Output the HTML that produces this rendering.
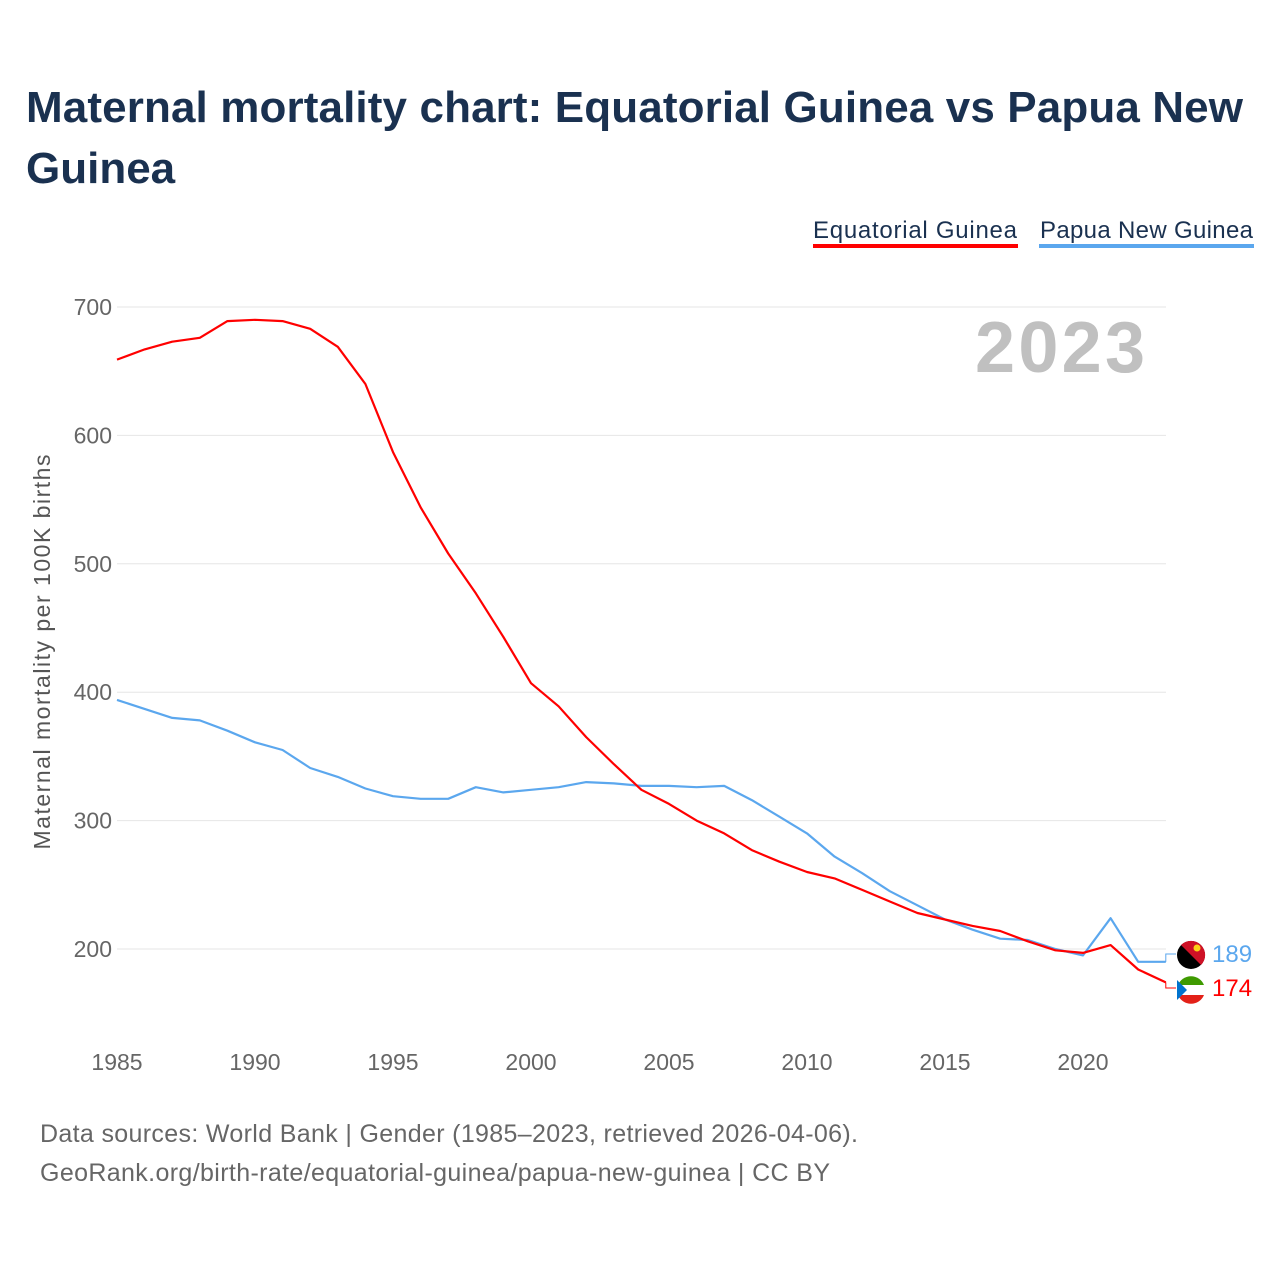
<!DOCTYPE html>
<html><head><meta charset="utf-8"><style>
body{margin:0;background:#fff;font-family:"Liberation Sans",sans-serif}
</style></head><body>
<svg width="1280" height="1280" viewBox="0 0 1280 1280" xmlns="http://www.w3.org/2000/svg">
<text x="26" y="122" font-size="44" font-weight="bold" fill="#1a3150" textLength="1217">Maternal mortality chart: Equatorial Guinea vs Papua New</text>
<text x="26" y="183" font-size="44" font-weight="bold" fill="#1a3150">Guinea</text>
<g>
<text x="813" y="238" font-size="24" fill="#1a3150" textLength="204">Equatorial Guinea</text>
<rect x="813" y="244" width="205" height="4" fill="#ff0000"/>
<text x="1040" y="238" font-size="24" fill="#1a3150" textLength="213">Papua New Guinea</text>
<rect x="1039" y="244" width="215" height="4" fill="#5ba7ee"/>
</g>
<text x="1060" y="372" font-size="72" font-weight="bold" fill="#c0c0c0" text-anchor="middle" textLength="170">2023</text>
<g id="grid"></g>
<g id="xt"></g>
<text transform="translate(50,652) rotate(-90)" font-size="23" fill="#555" text-anchor="middle" textLength="395">Maternal mortality per 100K births</text>
<g id="lines"></g>
<text x="40" y="1142" font-size="25" fill="#666" textLength="818">Data sources: World Bank | Gender (1985–2023, retrieved 2026-04-06).</text>
<text x="40" y="1181" font-size="25" fill="#666" textLength="790">GeoRank.org/birth-rate/equatorial-guinea/papua-new-guinea | CC BY</text>
</svg>
<script>
const years=[];for(let y=1985;y<=2023;y++)years.push(y);
const eqValues=[659,667,673,676,689,690,689,683,669,640,587,544,508,477,443,407,389,365,344,324,313,300,290,277,268,260,255,246,237,228,223,218,214,206,199,197,203,184,174];
const pngValues=[394,387,380,378,370,361,355,341,334,325,319,317,317,326,322,324,326,330,329,327,327,326,327,316,303,290,272,259,245,234,223,215,208,207,200,195,224,190,190];
const yTicks=[200,300,400,500,600,700];
const xTicks=[1985,1990,1995,2000,2005,2010,2015,2020];
const eqLabel="174", pngLabel="189";
const NS="http://www.w3.org/2000/svg";
const xs=y=>117+(y-1985)*(1083-117)/35;
const ys=v=>949-(v-200)*(949-307)/500;
function mk(tag,attrs,parent){const e=document.createElementNS(NS,tag);for(const k in attrs)e.setAttribute(k,attrs[k]);parent.appendChild(e);return e;}
const grid=document.getElementById('grid');
yTicks.forEach(t=>{
 const l=mk('line',{x1:117,x2:1166,y1:ys(t),y2:ys(t),stroke:'#e6e6e6','stroke-width':1},grid);
 
 
 const tx=mk('text',{x:112,y:ys(t)+8,'font-size':23,fill:'#666','text-anchor':'end'},grid);
 tx.textContent=t;
 
 
});
const xt=document.getElementById('xt');
xTicks.forEach(t=>{
 const tx=mk('text',{x:xs(t),y:1070,'font-size':23,fill:'#666','text-anchor':'middle'},xt);
 tx.textContent=t;
 
 
});
const lines=document.getElementById('lines');
function series(vals,color,name){
 const d=vals.map((v,i)=>(i?'L':'M')+xs(years[i]).toFixed(1)+','+ys(v).toFixed(1)).join(' ');
 const p=mk('path',{d:d,fill:'none',stroke:color,'stroke-width':2.2,'stroke-linejoin':'round'},lines);
 
 
}
series(pngValues,'#5ba7ee','line-papua-new-guinea');
series(eqValues,'#ff0000','line-equatorial-guinea');
const lx=xs(2023);
const pl=mk('text',{x:1212,y:962,'font-size':24,fill:'#5ba7ee'},lines);pl.textContent=pngLabel;


const el=mk('text',{x:1212,y:996,'font-size':24,fill:'#ff0000'},lines);el.textContent=eqLabel;


const c1=mk('path',{d:`M${lx},${ys(pngValues[38])} V954 H1176`,fill:'none',stroke:'#5ba7ee','stroke-width':1},lines);


const c2=mk('path',{d:`M${lx},${ys(eqValues[38])} V988 H1176`,fill:'none',stroke:'#ff0000','stroke-width':1},lines);


const f1=mk('g',{},lines);


mk('circle',{cx:1191,cy:955,r:14,fill:'#000'},f1);
mk('path',{d:'M1181,945 A14,14 0 0,1 1201,965 Z',fill:'#ce1126'},f1);
mk('circle',{cx:1197,cy:948,r:3.5,fill:'#fcd116'},f1);
const f2=mk('g',{},lines);


mk('circle',{cx:1191,cy:990,r:14,fill:'#fff'},f2);
mk('path',{d:'M1178,985 A14,14 0 0,1 1204,985 Z',fill:'#3e9a00'},f2);
mk('path',{d:'M1178,995 A14,14 0 0,0 1204,995 Z',fill:'#e32118'},f2);
mk('path',{d:'M1177,980 L1187,990 1177,1000 Z',fill:'#0073ce'},f2);
</script>
</body></html>
